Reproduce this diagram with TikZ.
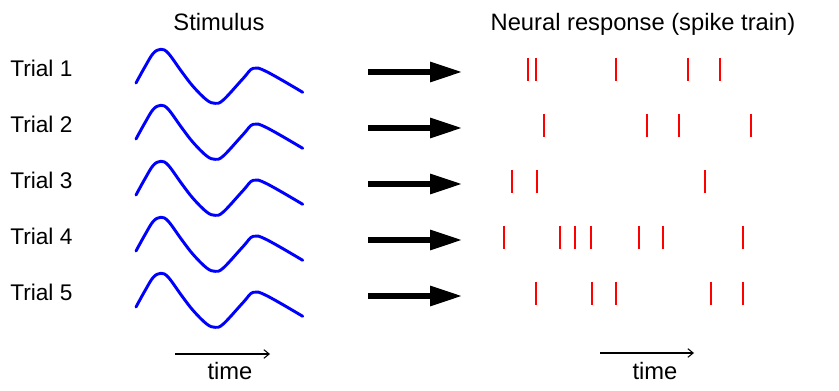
\documentclass[tikz,border=0pt]{standalone}
\usepackage{fontspec}
\setmainfont{Liberation Sans}
\usetikzlibrary{arrows.meta}

\tikzset{
  trial/.style={anchor=base west, inner sep=0pt, font=\fontsize{17}{20}\selectfont},
  heading/.style={anchor=base, inner sep=0pt, font=\fontsize{17.8}{21}\selectfont},
  stimcurve/.style={blue, line width=2.2pt, line join=round, line cap=round},
  spike/.style={red, line width=2pt},
  bigarrow/.style={line width=3.8pt, -{Triangle[length=24pt,width=14.5pt]}},
  timearrow/.style={line width=0.8pt, -{Straight Barb[length=4pt,width=6.5pt]}},
}

\begin{document}
\begin{tikzpicture}[x=0.75pt, y=-0.75pt]
  \useasboundingbox (0,0) rectangle (839,391);

  \node[heading] (stim) at (219,31) {Stimulus};
  \node[heading] (resp) at (643,31) {Neural response (spike train)};

  % one row per trial: label, stimulus, arrow, spike train
  \foreach \i/\spikes in {1/{528,536,616,688,720},
                          2/{544,647,679,751},
                          3/{512,537,705},
                          4/{504,560,575,591,639,663,743},
                          5/{536,592,616,711,743}} {
    \begin{scope}[shift={(0,{56*(\i-1)})}]
      \node[trial] (trial\i) at (10,77) {Trial \i};
      \draw[stimcurve] plot[smooth, tension=0.6] coordinates {
        (136,83) (145,66.7) (153.3,53.3) (161,49.3) (168.3,53.3)
        (181.7,71.7) (193.3,86.7) (206.7,100) (215,103.3) (223.3,100)
        (243.3,78.3) (253.3,68.3) (266.7,71.7) (302.7,92.3)};
      \coordinate (from\i) at (368,72);
      \coordinate (to\i) at (462,72);
      \draw[bigarrow] (from\i) -- (to\i);
      \foreach \x in \spikes
        \draw[spike] (\x,58) -- (\x,81);
    \end{scope}
  }

  % time axes
  \coordinate (ls) at (175,354);
  \coordinate (le) at (270,354);
  \draw[timearrow] (ls) -- (le);
  \node[heading] (ltime) at (230,380) {time};

  \coordinate (rs) at (600,353);
  \coordinate (re) at (694,353);
  \draw[timearrow] (rs) -- (re);
  \node[heading] (rtime) at (655,380) {time};
\end{tikzpicture}
\end{document}
